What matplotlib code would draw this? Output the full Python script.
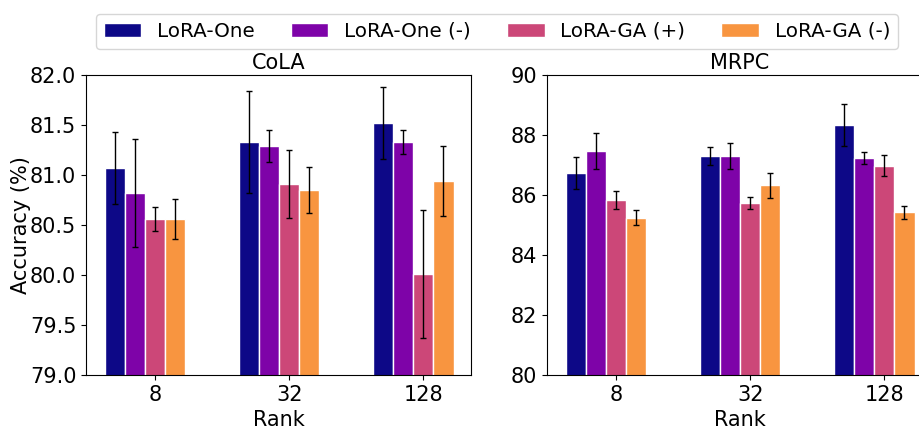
import numpy as np
import matplotlib
matplotlib.use("Agg")
import matplotlib.pyplot as plt
import matplotlib.patches as patches

# data
ranks = ["8", "32", "128"]
methods = ["LoRA-One", "LoRA-One (-)", "LoRA-GA (+)", "LoRA-GA (-)"]
colors = ["#0d0887", "#7e03a8", "#cc4778", "#f89540"]

# CoLA, one list per method (rank 8, 32, 128)
cola_mean = [
    [81.07, 81.33, 81.52],
    [80.82, 81.29, 81.33],
    [80.56, 80.91, 80.01],
    [80.56, 80.85, 80.94],
]
cola_err = [
    [0.36, 0.51, 0.36],
    [0.54, 0.16, 0.12],
    [0.12, 0.34, 0.64],
    [0.20, 0.23, 0.35],
]

# MRPC
mrpc_mean = [
    [86.73, 87.30, 88.35],
    [87.46, 87.30, 87.22],
    [85.83, 85.74, 86.97],
    [85.25, 86.32, 85.43],
]
mrpc_err = [
    [0.53, 0.30, 0.70],
    [0.60, 0.42, 0.20],
    [0.31, 0.20, 0.35],
    [0.24, 0.42, 0.22],
]

FS = 15
W = 0.15

fig = plt.figure(figsize=(9.2, 4.3), dpi=100)
ax1 = fig.add_axes([86 / 920, 55 / 430, 385 / 920, 300 / 430])
ax2 = fig.add_axes([547 / 920, 55 / 430, 385 / 920, 300 / 430])


def draw_panel(ax, means, errs, title, ylim, yticks, fmt):
    x = np.arange(len(ranks))
    for i in range(len(methods)):
        ax.bar(x + (i - 2) * W, means[i], W, yerr=errs[i], color=colors[i],
               edgecolor="white", linewidth=1, capsize=2,
               error_kw=dict(elinewidth=1, ecolor="black", capthick=1),
               label=methods[i])
    ax.set_xticks(x)
    ax.set_xticklabels(ranks, fontsize=FS)
    ax.set_xlim(-0.44 - 0.075, 2.43 - 0.075)
    ax.set_ylim(*ylim)
    ax.set_yticks(yticks)
    ax.set_yticklabels([fmt.format(v) for v in yticks], fontsize=FS)
    ax.set_xlabel("Rank", fontsize=FS, labelpad=4)
    ax.set_title(title, fontsize=FS, pad=4)


draw_panel(ax1, cola_mean, cola_err, "CoLA", (79, 82),
           np.arange(79, 82.01, 0.5), "{:.1f}")
draw_panel(ax2, mrpc_mean, mrpc_err, "MRPC", (80, 90),
           np.arange(80, 90.1, 2), "{:.0f}")
ax1.set_ylabel("Accuracy (%)", fontsize=FS, labelpad=-1)

handles = [patches.Patch(facecolor=c, edgecolor="white") for c in colors]
fig.legend(handles, methods, loc="upper center", ncol=4, fontsize=14.3,
           bbox_to_anchor=(497 / 920, 1 - 4 / 430), columnspacing=1.8,
           handlelength=1.9, frameon=True)

fig.savefig("out.png", dpi=100)
